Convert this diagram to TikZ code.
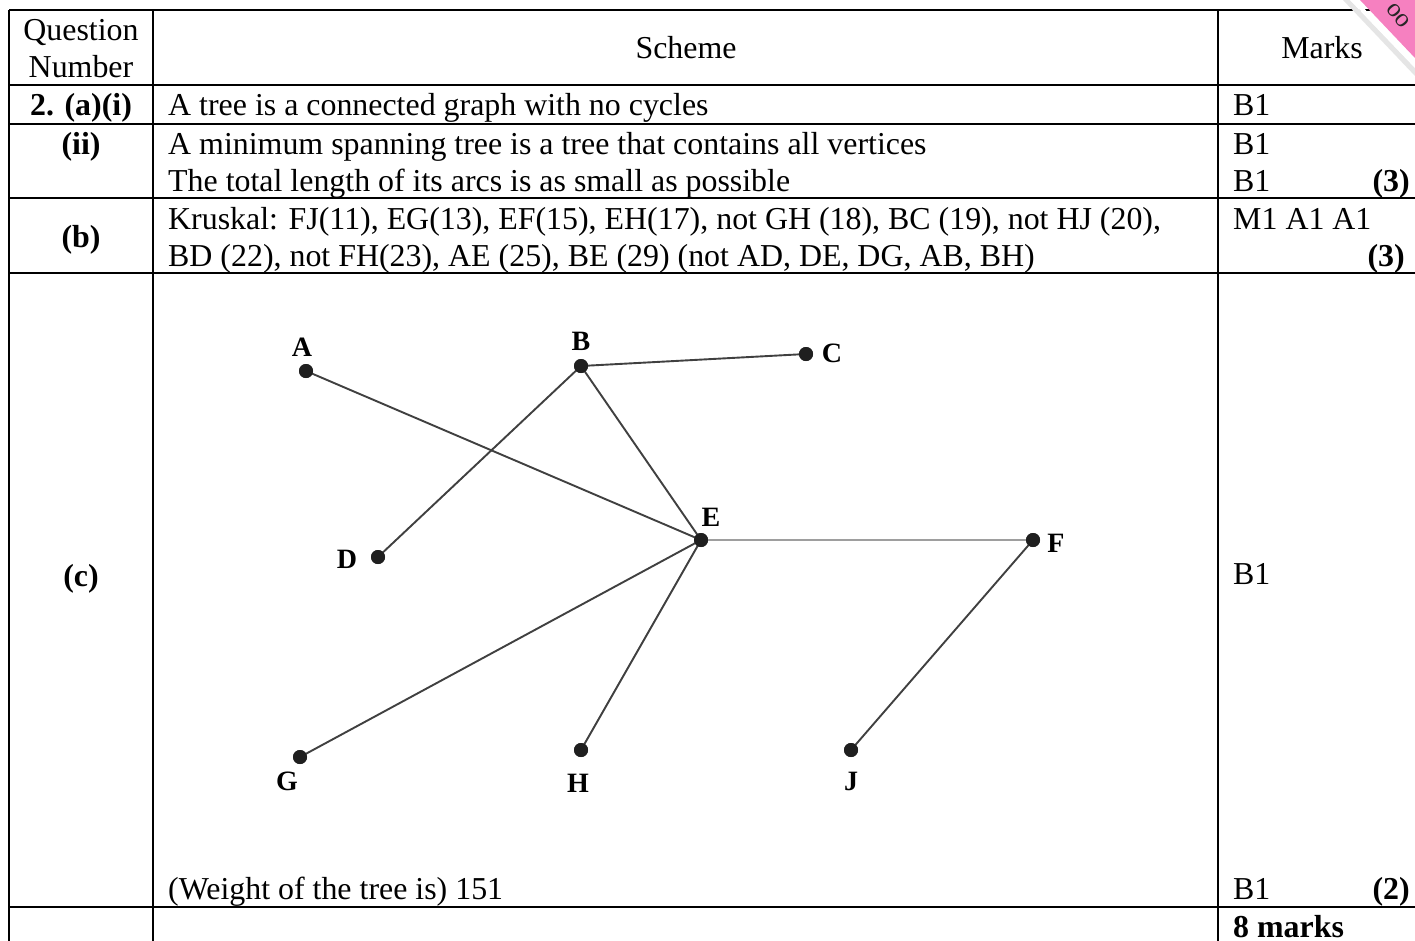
\documentclass[tikz,border=0pt]{standalone}
\usepackage{fontspec}
\setmainfont{Liberation Serif}
\definecolor{ribbon}{RGB}{246,128,192}
\begin{document}
\begin{tikzpicture}[x=1pt,y=-1pt,
  rule/.style={line width=2pt, black},
  txt/.style={anchor=base west, inner sep=0pt, font=\fontsize{31.9}{36}\selectfont},
  ctxt/.style={anchor=base, inner sep=0pt, font=\fontsize{31.9}{36}\selectfont},
  btxt/.style={anchor=base, inner sep=0pt, font=\fontsize{31.9}{36}\selectfont\bfseries},
  bltxt/.style={anchor=base west, inner sep=0pt, font=\fontsize{31.9}{36}\selectfont\bfseries},
  rtxt/.style={anchor=base east, inner sep=0pt, font=\fontsize{31.9}{36}\selectfont\bfseries},
  vtx/.style={circle, fill=black!88, inner sep=0pt, minimum size=14pt},
  vlab/.style={inner sep=0pt, font=\fontsize{28}{32}\selectfont\bfseries},
  link/.style={draw=black!75, line width=1.9pt},
  lightlink/.style={draw=black!38, line width=2.4pt},
  ]
\useasboundingbox (0,0) rectangle (1415,940);
\fill[white] (0,0) rectangle (1415,940);

% table rules
\foreach \yy in {10,85,124,198,273,907} \draw[rule] (9,\yy) -- (1430,\yy);
\foreach \xx in {9,153,1218} \draw[rule] (\xx,10) -- (\xx,950);

% header
\node[ctxt] (hq) at (81,40) {Question};
\node[ctxt] (hn) at (81,77) {Number};
\node[ctxt] (hs) at (686,58) {Scheme};
\node[ctxt] (hm) at (1322,58) {Marks};

% row a(i)
\node[btxt] (q1) at (81,115) {2. (a)(i)};
\node[txt] (s1) at (168,115) {A tree is a connected graph with no cycles};
\node[txt] (m1) at (1233,115) {B1};

% row a(ii)
\node[btxt] (q2) at (81,154) {(ii)};
\node[txt] (s2a) at (168,154) {A minimum spanning tree is a tree that contains all vertices};
\node[txt] (s2b) at (168,191) {The total length of its arcs is as small as possible};
\node[txt] (m2a) at (1233,154) {B1};
\node[txt] (m2b) at (1233,191) {B1};
\node[rtxt] (t2) at (1410,191) {(3)};

% row b
\node[btxt] (q3) at (81,247) {(b)};
\node[txt] (s3a) at (168,229) {Kruskal: FJ(11), EG(13), EF(15), EH(17), not GH (18), BC (19), not HJ (20),};
\node[txt] (s3b) at (168,266) {BD (22), not FH(23), AE (25), BE (29) (not AD, DE, DG, AB, BH)};
\node[txt] (m3) at (1233,229) {M1 A1 A1};
\node[rtxt] (t3) at (1405,266) {(3)};

% row c
\node[btxt] (q4) at (81,586) {(c)};
\node[txt] (m4) at (1233,584) {B1};
\node[txt] (s4) at (168,899) {(Weight of the tree is) 151};
\node[txt] (m4b) at (1233,899) {B1};
\node[rtxt] (t4) at (1410,899) {(2)};

% total
\node[bltxt] (tot) at (1233,937) {8 marks};

% graph
\node[vtx] (A) at (306,371) {};
\node[vtx] (B) at (581,366) {};
\node[vtx] (C) at (806,354) {};
\node[vtx] (D) at (378,557) {};
\node[vtx] (E) at (701,540) {};
\node[vtx] (F) at (1033,540) {};
\node[vtx] (G) at (300,757) {};
\node[vtx] (H) at (581,750) {};
\node[vtx] (J) at (851,750) {};

\node[vlab] (lA) at (302,347) {A};
\node[vlab] (lB) at (581,341) {B};
\node[vlab] (lC) at (832,353) {C};
\node[vlab] (lD) at (347,559) {D};
\node[vlab] (lE) at (711,517) {E};
\node[vlab] (lF) at (1056,543) {F};
\node[vlab] (lG) at (287,781) {G};
\node[vlab] (lH) at (578,783) {H};
\node[vlab] (lJ) at (851,781) {J};

\draw[link] (A.center) -- (E.center);
\draw[link] (B.center) -- (C.center);
\draw[link] (B.center) -- (D.center);
\draw[link] (B.center) -- (E.center);
\draw[lightlink] (E.center) -- (F.center);
\draw[link] (E.center) -- (G.center);
\draw[link] (E.center) -- (H.center);
\draw[link] (F.center) -- (J.center);
\foreach \v in {A,B,C,D,E,F,G,H,J} \fill[black!88] (\v) circle (7);

% corner ribbon
\fill[black!10] (1350,0) -- (1415,68) -- (1415,76) -- (1343,0) -- cycle;
\fill[white] (1356,0) -- (1415,62) -- (1415,68) -- (1350,0) -- cycle;
\fill[ribbon] (1360,0) -- (1415,0) -- (1415,58) -- cycle;
\begin{scope}
\clip (1360,0) -- (1415,0) -- (1415,58) -- cycle;
\node[inner sep=0pt, rotate=-50, font=\fontsize{26}{30}\selectfont, text=black!85] (rib) at (1398,16) {oo};
\end{scope}
\end{tikzpicture}
\end{document}
